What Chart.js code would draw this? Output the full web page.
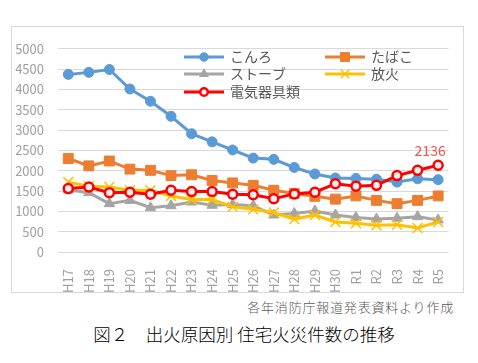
<!DOCTYPE html>
<html>
<head>
<meta charset="utf-8">
<script src="https://cdn.jsdelivr.net/npm/chart.js@4/dist/chart.umd.min.js"></script>
<style>
  body { margin: 0; background: #fff; width: 478px; height: 363px; position: relative; overflow: hidden;
         font-family: "Noto Sans CJK JP", "Noto Sans", sans-serif; }
  #box { position: absolute; left: 11px; top: 26px; width: 453px; height: 267px;
         border: 1px solid #d9d9d9; box-sizing: border-box; }
  #source { position: absolute; right: 24px; top: 297px; font-size: 13px; letter-spacing: 0.8px; color: #595959; font-weight: 300; }
  #title { position: absolute; left: 0; width: 488px; text-align: center; top: 321px; font-size: 17.5px; color: #000; font-weight: 300; }
</style>
</head>
<body>
<div id="box"><canvas id="fireChart" width="451" height="265"></canvas></div>
<div id="source">各年消防庁報道発表資料より作成</div>
<div id="title">図２　出火原因別 住宅火災件数の推移</div>
<script>
// Data
const years = ['H17', 'H18', 'H19', 'H20', 'H21', 'H22', 'H23', 'H24', 'H25', 'H26',
               'H27', 'H28', 'H29', 'H30', 'R1', 'R2', 'R3', 'R4', 'R5'];
const konro  = [4370, 4420, 4490, 4010, 3710, 3340, 2910, 2710, 2510, 2310, 2280, 2080, 1920, 1820, 1810, 1790, 1720, 1800, 1780];
const tabako = [2300, 2120, 2240, 2040, 2010, 1880, 1900, 1760, 1700, 1640, 1520, 1440, 1370, 1300, 1380, 1270, 1190, 1270, 1380];
const stove  = [1530, 1460, 1190, 1270, 1090, 1140, 1230, 1150, 1170, 1140, 910, 950, 1010, 910, 850, 810, 830, 870, 790];
const houka  = [1720, 1620, 1600, 1520, 1520, 1380, 1290, 1290, 1110, 1050, 970, 810, 910, 740, 710, 660, 670, 590, 740];
const denki  = [1560, 1600, 1460, 1470, 1420, 1520, 1490, 1490, 1420, 1410, 1310, 1430, 1470, 1680, 1620, 1640, 1880, 2010, 2136];
const yTicks = { min: 0, max: 5000, step: 500 };

const tickColor = '#a0a0a0';
const fontFamily = '"Noto Sans CJK JP", "Noto Sans", sans-serif';

// Draw a marker in the legend in the same style as the line points
function drawMarker(ctx, ds, x, y) {
    const r = ds.pointRadius;
    ctx.save();
    ctx.fillStyle = ds.pointBackgroundColor;
    ctx.strokeStyle = ds.pointBorderColor;
    ctx.lineWidth = ds.pointBorderWidth;
    ctx.beginPath();
    if (ds.pointStyle === 'circle') {
        ctx.arc(x, y, r * 0.85, 0, Math.PI * 2);
        ctx.fill(); ctx.stroke();
    } else if (ds.pointStyle === 'rect') {
        const s = Math.SQRT1_2 * r * 0.9;
        ctx.rect(x - s, y - s, s * 2, s * 2);
        ctx.fill(); ctx.stroke();
    } else if (ds.pointStyle === 'triangle') {
        const rr = r * 0.85;
        ctx.moveTo(x, y - rr);
        ctx.lineTo(x + rr * 0.866, y + rr * 0.5);
        ctx.lineTo(x - rr * 0.866, y + rr * 0.5);
        ctx.closePath();
        ctx.fill(); ctx.stroke();
    } else if (ds.pointStyle === 'crossRot') {
        const s = r * 0.6;
        ctx.moveTo(x - s, y - s); ctx.lineTo(x + s, y + s);
        ctx.moveTo(x + s, y - s); ctx.lineTo(x - s, y + s);
        ctx.stroke();
    }
    ctx.restore();
}

// Legend drawn inside the plot, two columns
const insideLegend = {
    id: 'insideLegend',
    afterDraw(chart) {
        const ctx = chart.ctx;
        const slots = [[172, 30], [313, 30], [172, 47], [313, 47], [172, 65]];
        chart.data.datasets.forEach((ds, i) => {
            const [x, y] = slots[i];
            ctx.save();
            ctx.strokeStyle = ds.borderColor;
            ctx.lineWidth = ds.borderWidth;
            ctx.beginPath();
            ctx.moveTo(x, y);
            ctx.lineTo(x + 40, y);
            ctx.stroke();
            ctx.restore();
            drawMarker(ctx, ds, x + 20, y);
            ctx.save();
            ctx.fillStyle = '#595959';
            ctx.font = '14px ' + fontFamily;
            ctx.textBaseline = 'middle';
            ctx.fillText(ds.label, x + 46, y);
            ctx.restore();
        });
    }
};

// Value label over the last point of 電気器具類
const lastLabel = {
    id: 'lastLabel',
    afterDatasetsDraw(chart) {
        const idx = chart.data.datasets.findIndex(d => d.label === '電気器具類');
        const meta = chart.getDatasetMeta(idx);
        const last = meta.data[meta.data.length - 1];
        const ctx = chart.ctx;
        ctx.save();
        ctx.fillStyle = '#ff4b4b';
        ctx.font = '14px ' + fontFamily;
        ctx.textAlign = 'center';
        ctx.textBaseline = 'bottom';
        ctx.fillText(String(denki[denki.length - 1]), last.x - 8, last.y - 8);
        ctx.restore();
    }
};

function lineSet(label, data, color, style, radius, fill, order) {
    return {
        label: label,
        data: data,
        borderColor: color,
        borderWidth: 3,
        pointStyle: style,
        pointRadius: radius,
        pointBackgroundColor: fill,
        pointBorderColor: color,
        pointBorderWidth: style === 'crossRot' ? 1.5 : 1,
        tension: 0,
        order: order
    };
}

const datasets = [
    lineSet('こんろ', konro, '#5b9bd5', 'circle', 5, '#5b9bd5', 5),
    lineSet('たばこ', tabako, '#ed7d31', 'rect', 7, '#ed7d31', 4),
    lineSet('ストーブ', stove, '#a5a5a5', 'triangle', 6, '#a5a5a5', 3),
    lineSet('放火', houka, '#ffc000', 'crossRot', 7, '#ffc000', 2),
    lineSet('電気器具類', denki, '#ff0000', 'circle', 4.5, '#efefef', 1)
];
datasets[4].pointBorderWidth = 2.5;

new Chart(document.getElementById('fireChart'), {
    type: 'line',
    data: { labels: years, datasets: datasets },
    options: {
        responsive: false,
        animation: false,
        layout: { padding: { top: 14, right: 10, left: 0, bottom: 0 } },
        plugins: { legend: { display: false }, tooltip: { enabled: false } },
        scales: {
            x: {
                offset: true,
                grid: { display: false },
                border: { display: false },
                ticks: {
                    color: tickColor,
                    font: { family: fontFamily, size: 13 },
                    minRotation: 90, maxRotation: 90,
                    autoSkip: false,
                    padding: 9
                },
                afterFit(scale) { scale.height = 40; }
            },
            y: {
                min: yTicks.min, max: yTicks.max,
                grid: { color: '#d9d9d9', lineWidth: 1, drawTicks: false },
                border: { display: false },
                ticks: {
                    stepSize: yTicks.step,
                    color: tickColor,
                    font: { family: fontFamily, size: 13 },
                    padding: 14,
                    callback: v => String(v)
                },
                afterFit(scale) { scale.width = 46; }
            }
        }
    },
    plugins: [insideLegend, lastLabel]
});
</script>
</body>
</html>
